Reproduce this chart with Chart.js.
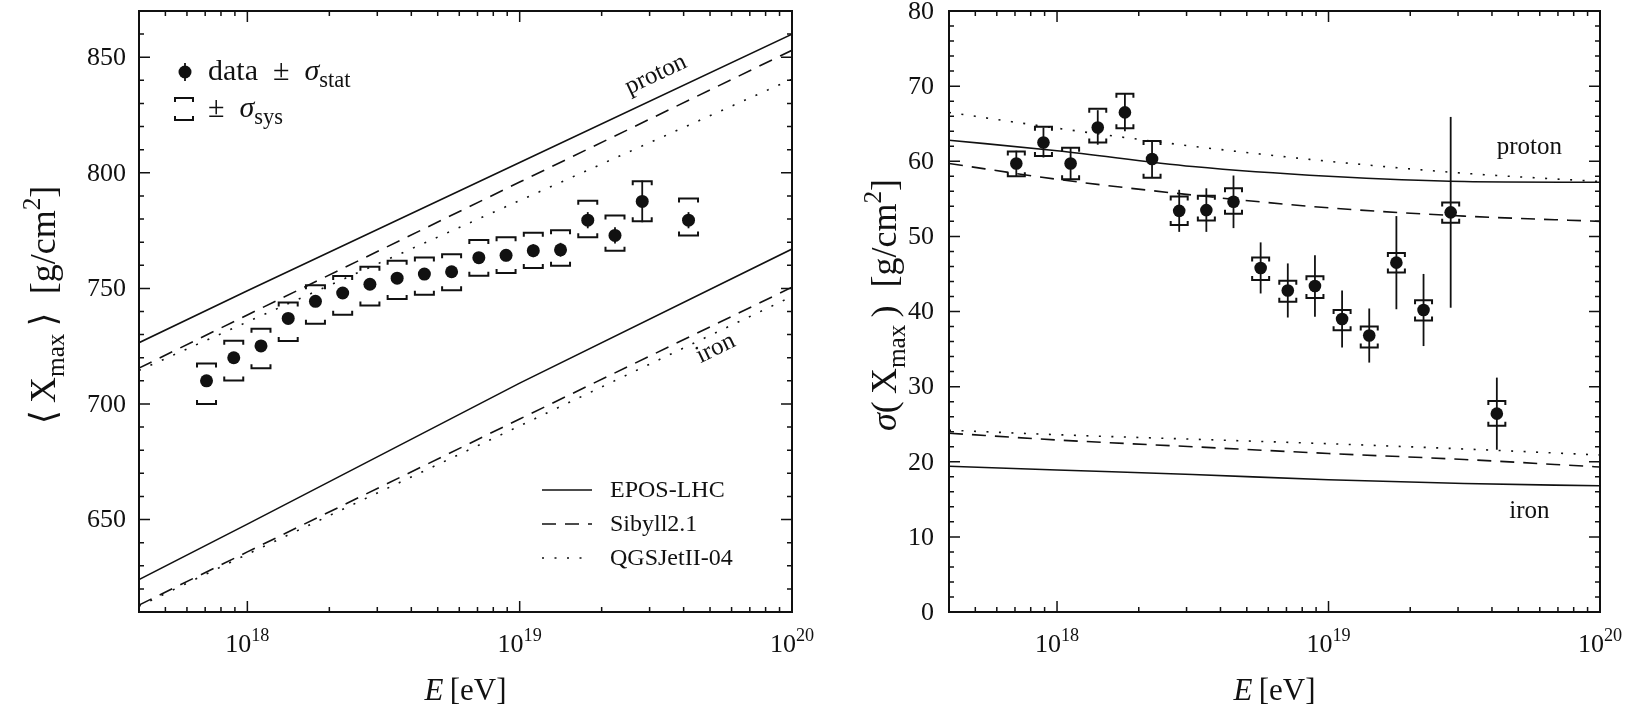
<!DOCTYPE html>
<html>
<head>
<meta charset="utf-8">
<script src="https://cdn.jsdelivr.net/npm/chart.js@4.4.0/dist/chart.umd.min.js"></script>
<style>
  html, body { margin: 0; padding: 0; background: #fff; }
  #wrap { position: relative; width: 1637px; height: 721px; }
  #left { position: absolute; left: 0; top: 0; }
  #right { position: absolute; left: 820px; top: 0; }
</style>
</head>
<body>
<div id="wrap">
  <canvas id="left" width="820" height="721"></canvas>
  <canvas id="right" width="817" height="721"></canvas>
</div>
<script>
// ---- data ----
var lgE = [17.85, 17.95, 18.05, 18.15, 18.25, 18.35, 18.45, 18.55, 18.65,
           18.75, 18.85, 18.95, 19.05, 19.15, 19.25, 19.35, 19.45, 19.62];
var energies = lgE.map(function(l) { return Math.pow(10, l); });

// <Xmax>
var xmaxMean    = [710.0, 720.0, 725.1, 737.0, 744.4, 748.0, 751.8, 754.4, 756.2,
                   757.2, 763.3, 764.3, 766.3, 766.7, 779.5, 772.9, 787.6, 779.5];
var xmaxStat    = [1.5, 1.5, 1.5, 1.6, 1.7, 1.8, 1.9, 2.0, 2.1, 2.2, 2.4, 2.6, 2.8, 3.0, 3.5, 3.5, 9.0, 3.5];
var xmaxSysUp   = [7.5, 7.3, 7.4, 6.9, 7.0, 7.4, 7.6, 7.6, 7.2, 7.6, 7.6, 7.8, 7.8, 8.4, 8.4, 8.6, 8.8, 9.4];
var xmaxSysDown = [10.0, 9.8, 9.6, 9.8, 9.7, 9.4, 9.2, 9.0, 9.0, 8.0, 7.8, 7.6, 7.5, 6.9, 7.4, 6.6, 8.6, 6.6];

// sigma(Xmax)
var sigmaXmax    = [59.7, 62.5, 59.7, 64.5, 66.5, 60.3, 53.4, 53.5, 54.6,
                    45.8, 42.8, 43.4, 39.0, 36.8, 46.5, 40.2, 53.2, 26.4];
var sigmaStat    = [1.7, 2.0, 2.1, 2.3, 2.5, 2.4, 2.8, 2.9, 3.5, 3.4, 3.6, 4.1, 3.8, 3.6, 6.2, 4.8, 12.7, 4.8];
var sigmaSysUp   = [1.6, 2.1, 2.1, 2.5, 2.5, 2.4, 1.9, 1.9, 1.8, 1.4, 1.3, 1.3, 1.2, 1.2, 1.3, 1.3, 1.3, 1.7];
var sigmaSysDown = [1.7, 1.8, 2.1, 2.0, 2.1, 2.5, 1.9, 1.4, 1.6, 1.6, 1.5, 1.6, 1.5, 1.6, 1.3, 1.4, 1.4, 1.6];

// model predictions, <Xmax>
var modelE           = [4e17, 1e18, 1e19, 1e20];
var meanProtonEpos   = [726.5, 749.0, 804.5, 860.0];
var meanProtonSibyll = [715.5, 738.5, 796.0, 853.0];
var meanProtonQgsjet = [714.5, 735.5, 788.0, 840.5];
var meanIronEpos     = [624.0, 648.0, 709.0, 767.0];
var meanIronSibyll   = [613.0, 636.0, 693.5, 750.5];
var meanIronQgsjet   = [612.5, 635.0, 690.5, 746.5];

// model predictions, sigma(Xmax)
var sigmaModelE       = [4e17, 1e18, 3.16e18, 1e19, 3.16e19, 1e20];
var sigmaProtonEpos   = [62.8, 61.4, 59.3, 58.0, 57.3, 57.2];
var sigmaProtonSibyll = [59.7, 57.6, 55.5, 53.8, 52.7, 52.0];
var sigmaProtonQgsjet = [66.5, 64.4, 62.0, 60.0, 58.4, 57.3];
var sigmaIronEpos     = [19.4, 18.9, 18.3, 17.6, 17.1, 16.8];
var sigmaIronSibyll   = [23.8, 22.9, 22.0, 21.1, 20.3, 19.3];
var sigmaIronQgsjet   = [24.2, 23.6, 23.0, 22.4, 21.7, 20.9];

// axes
var xTickExp = [18, 19, 20];
var leftYMajor = [650, 700, 750, 800, 850];
var rightYMajor = [0, 10, 20, 30, 40, 50, 60, 70, 80];
var modelNames = ['EPOS-LHC', 'Sibyll2.1', 'QGSJetII-04'];

var FONT = '"Liberation Serif", "DejaVu Serif", serif';
var INK = '#111';
var DASH = [14, 9];
var DOT = [2, 10.5];

var xMajor = xTickExp.map(function(e) { return Math.pow(10, e); });
var xMinor = [];
for (var ex = 17; ex < 20; ex++) {
  for (var k = 2; k <= 9; k++) {
    var v = k * Math.pow(10, ex);
    if (v >= 4e17) xMinor.push(v);
  }
}

function pts(xa, ya) {
  return xa.map(function(x, i) { return { x: x, y: ya[i] }; });
}

function model(label, xa, ya, dash, smooth) {
  return {
    label: label, data: pts(xa, ya), showLine: true, pointRadius: 0,
    borderColor: INK, borderWidth: 1.6, borderDash: dash || [],
    cubicInterpolationMode: smooth ? 'monotone' : 'default', tension: 0, fill: false
  };
}

// text with italic parts, sub- and superscripts
function drawRich(ctx, parts, x, y, size, align, subRatio) {
  var r = subRatio || 0.7;
  var total = 0;
  parts.forEach(function(p) {
    p._s = p.pos ? size * r : size;
    ctx.font = (p.it ? 'italic ' : '') + p._s + 'px ' + FONT;
    p._w = ctx.measureText(p.t).width;
    total += p._w;
  });
  var cx = align === 'center' ? x - total / 2 : (align === 'right' ? x - total : x);
  ctx.textAlign = 'left';
  ctx.textBaseline = 'alphabetic';
  parts.forEach(function(p) {
    ctx.font = (p.it ? 'italic ' : '') + p._s + 'px ' + FONT;
    var dy = p.pos === 'sub' ? size * 0.24 : (p.pos === 'sup' ? -size * 0.42 : 0);
    ctx.fillText(p.t, cx, y + dy);
    cx += p._w;
  });
}

function sampleLine(ctx, x0, x1, y, dash) {
  ctx.save();
  ctx.lineWidth = 1.6;
  ctx.setLineDash(dash);
  ctx.beginPath(); ctx.moveTo(x0, y); ctx.lineTo(x1, y); ctx.stroke();
  ctx.restore();
}

function bracket(ctx, px, yt, yb, w, leg) {
  ctx.beginPath();
  ctx.moveTo(px - w, yt + leg); ctx.lineTo(px - w, yt); ctx.lineTo(px + w, yt); ctx.lineTo(px + w, yt + leg);
  ctx.moveTo(px - w, yb - leg); ctx.lineTo(px - w, yb); ctx.lineTo(px + w, yb); ctx.lineTo(px + w, yb - leg);
  ctx.stroke();
}

function decor(cfg) {
  return {
    id: 'decor',
    beforeDatasetsDraw: function(chart) {
      var ctx = chart.ctx, xs = chart.scales.x, ys = chart.scales.y, a = chart.chartArea;
      var e = cfg.err;
      ctx.save();
      ctx.beginPath(); ctx.rect(a.left, a.top, a.right - a.left, a.bottom - a.top); ctx.clip();
      ctx.strokeStyle = INK;
      for (var i = 0; i < e.x.length; i++) {
        var px = xs.getPixelForValue(e.x[i]);
        ctx.lineWidth = 1.8;
        ctx.beginPath();
        ctx.moveTo(px, ys.getPixelForValue(e.v[i] + e.stat[i]));
        ctx.lineTo(px, ys.getPixelForValue(e.v[i] - e.stat[i]));
        ctx.stroke();
        ctx.lineWidth = 2;
        bracket(ctx, px, ys.getPixelForValue(e.v[i] + e.up[i]), ys.getPixelForValue(e.v[i] - e.down[i]), e.w, e.leg);
      }
      ctx.restore();
    },
    afterDraw: function(chart) {
      var ctx = chart.ctx, xs = chart.scales.x, ys = chart.scales.y, a = chart.chartArea;
      ctx.save();
      ctx.strokeStyle = INK; ctx.fillStyle = INK;

      // frame
      ctx.lineWidth = 2;
      ctx.strokeRect(a.left, a.top, a.right - a.left, a.bottom - a.top);

      // inward ticks on all four sides
      ctx.lineWidth = 1.5;
      function xt(v, len) {
        var p = xs.getPixelForValue(v);
        ctx.beginPath();
        ctx.moveTo(p, a.bottom); ctx.lineTo(p, a.bottom - len);
        ctx.moveTo(p, a.top); ctx.lineTo(p, a.top + len);
        ctx.stroke();
      }
      function yt(v, len) {
        var p = ys.getPixelForValue(v);
        ctx.beginPath();
        ctx.moveTo(a.left, p); ctx.lineTo(a.left + len, p);
        ctx.moveTo(a.right, p); ctx.lineTo(a.right - len, p);
        ctx.stroke();
      }
      xMinor.forEach(function(v) { xt(v, 5); });
      xMajor.forEach(function(v) { xt(v, 11); });
      cfg.yMinor.forEach(function(v) { yt(v, 5); });
      cfg.yMajor.forEach(function(v) { yt(v, 11); });

      // tick labels
      ctx.font = '26px ' + FONT;
      ctx.textAlign = 'right'; ctx.textBaseline = 'middle';
      cfg.yMajor.forEach(function(v) {
        ctx.fillText(String(v), a.left - cfg.yLabelGap, ys.getPixelForValue(v) + 1);
      });
      xTickExp.forEach(function(ex, i) {
        drawRich(ctx, [{ t: '10' }, { t: String(ex), pos: 'sup' }],
                 xs.getPixelForValue(xMajor[i]), 652, 26, 'center');
      });

      // axis titles
      drawRich(ctx, [{ t: 'E', it: true }, { t: '\u2009[eV]' }], (a.left + a.right) / 2, 700, 31, 'center');
      ctx.save();
      ctx.translate(cfg.yTitleX, cfg.yTitleY);
      ctx.rotate(-Math.PI / 2);
      drawRich(ctx, cfg.yTitle, 0, 0, 36, 'center');
      ctx.restore();

      // text labels in the plot
      cfg.labels.forEach(function(l) {
        var px = xs.getPixelForValue(l.x), py = ys.getPixelForValue(l.y);
        var ang = 0;
        if (l.along) {
          var s = l.along;
          ang = Math.atan2(ys.getPixelForValue(s[s.length - 1]) - ys.getPixelForValue(s[0]),
                           xs.getPixelForValue(modelE[modelE.length - 1]) - xs.getPixelForValue(modelE[0]));
        }
        ctx.save();
        ctx.translate(px, py);
        ctx.rotate(ang);
        ctx.font = '25px ' + FONT;
        ctx.textAlign = 'center'; ctx.textBaseline = 'middle';
        ctx.fillText(l.t, 0, 0);
        ctx.restore();
      });

      if (cfg.legend) cfg.legend(ctx, a);
      ctx.restore();
    }
  };
}

function baseOptions(pad, ymin, ymax) {
  return {
    responsive: false, animation: false, devicePixelRatio: 1,
    layout: { padding: pad },
    plugins: { legend: { display: false }, tooltip: { enabled: false } },
    scales: {
      x: { type: 'logarithmic', min: 4e17, max: 1e20, display: false },
      y: { type: 'linear', min: ymin, max: ymax, display: false }
    }
  };
}

function dataSet(ya, r) {
  return {
    label: 'data', data: pts(energies, ya), showLine: false,
    pointRadius: r, pointBackgroundColor: INK, pointBorderWidth: 0, pointHoverRadius: r
  };
}

// ---- left panel: <Xmax> ----
var leftYMinor = [];
for (var yv = 620; yv <= 870; yv += 10) if (leftYMajor.indexOf(yv) < 0) leftYMinor.push(yv);

new Chart(document.getElementById('left'), {
  type: 'scatter',
  data: {
    datasets: [
      dataSet(xmaxMean, 6.5),
      model('proton EPOS-LHC', modelE, meanProtonEpos, null, false),
      model('proton Sibyll2.1', modelE, meanProtonSibyll, DASH, false),
      model('proton QGSJetII-04', modelE, meanProtonQgsjet, DOT, false),
      model('iron EPOS-LHC', modelE, meanIronEpos, null, false),
      model('iron Sibyll2.1', modelE, meanIronSibyll, DASH, false),
      model('iron QGSJetII-04', modelE, meanIronQgsjet, DOT, false)
    ]
  },
  options: baseOptions({ left: 139, right: 28, top: 11, bottom: 109 }, 610, 870),
  plugins: [decor({
    err: { x: energies, v: xmaxMean, stat: xmaxStat, up: xmaxSysUp, down: xmaxSysDown, w: 9.5, leg: 4 },
    yMajor: leftYMajor, yMinor: leftYMinor, yLabelGap: 13,
    yTitleX: 55, yTitleY: 305,
    yTitle: [{ t: '\u27E8\u2009X' }, { t: 'max', pos: 'sub' }, { t: '\u2009\u27E9\u2002[g/cm' }, { t: '2', pos: 'sup' }, { t: ']' }],
    labels: [
      { t: 'proton', x: Math.pow(10, 19.5), y: 842.5, along: meanProtonEpos },
      { t: 'iron', x: Math.pow(10, 19.72), y: 724, along: meanIronSibyll }
    ],
    legend: function(ctx, a) {
      // data +- stat
      ctx.beginPath(); ctx.arc(185, 72, 6.5, 0, 2 * Math.PI); ctx.fill();
      ctx.lineWidth = 1.8;
      ctx.beginPath(); ctx.moveTo(185, 63); ctx.lineTo(185, 81); ctx.stroke();
      drawRich(ctx, [{ t: 'data\u2002\u00B1\u2002' }, { t: '\u03C3', it: true }, { t: 'stat', pos: 'sub' }], 208, 80, 30, 'left', 0.75);
      ctx.lineWidth = 2;
      bracket(ctx, 184, 98, 120, 9, 4);
      drawRich(ctx, [{ t: '\u00B1\u2002' }, { t: '\u03C3', it: true }, { t: 'sys', pos: 'sub' }], 208, 117, 30, 'left', 0.75);
      // model legend
      var rows = [490, 524, 558], dashes = [[], DASH, DOT];
      rows.forEach(function(y, i) {
        sampleLine(ctx, 542, 592, y, dashes[i]);
        ctx.font = '24px ' + FONT;
        ctx.textAlign = 'left'; ctx.textBaseline = 'middle';
        ctx.fillText(modelNames[i], 610, y + 1);
      });
    }
  })]
});

// ---- right panel: sigma(Xmax) ----
var rightYMinor = [];
for (var yw = 2; yw < 80; yw += 2) if (rightYMajor.indexOf(yw) < 0) rightYMinor.push(yw);

new Chart(document.getElementById('right'), {
  type: 'scatter',
  data: {
    datasets: [
      dataSet(sigmaXmax, 6.3),
      model('proton EPOS-LHC', sigmaModelE, sigmaProtonEpos, null, true),
      model('proton Sibyll2.1', sigmaModelE, sigmaProtonSibyll, DASH, true),
      model('proton QGSJetII-04', sigmaModelE, sigmaProtonQgsjet, DOT, true),
      model('iron EPOS-LHC', sigmaModelE, sigmaIronEpos, null, true),
      model('iron Sibyll2.1', sigmaModelE, sigmaIronSibyll, DASH, true),
      model('iron QGSJetII-04', sigmaModelE, sigmaIronQgsjet, DOT, true)
    ]
  },
  options: baseOptions({ left: 129, right: 37, top: 11, bottom: 109 }, 0, 80),
  plugins: [decor({
    err: { x: energies, v: sigmaXmax, stat: sigmaStat, up: sigmaSysUp, down: sigmaSysDown, w: 8.5, leg: 4 },
    yMajor: rightYMajor, yMinor: rightYMinor, yLabelGap: 15,
    yTitleX: 76, yTitleY: 305,
    yTitle: [{ t: '\u03C3', it: true }, { t: '(\u2009X' }, { t: 'max', pos: 'sub' }, { t: '\u2009)\u2002[g/cm' }, { t: '2', pos: 'sup' }, { t: ']' }],
    labels: [
      { t: 'proton', x: Math.pow(10, 19.74), y: 61.8 },
      { t: 'iron', x: Math.pow(10, 19.74), y: 13.4 }
    ]
  })]
});
</script>
</body>
</html>
